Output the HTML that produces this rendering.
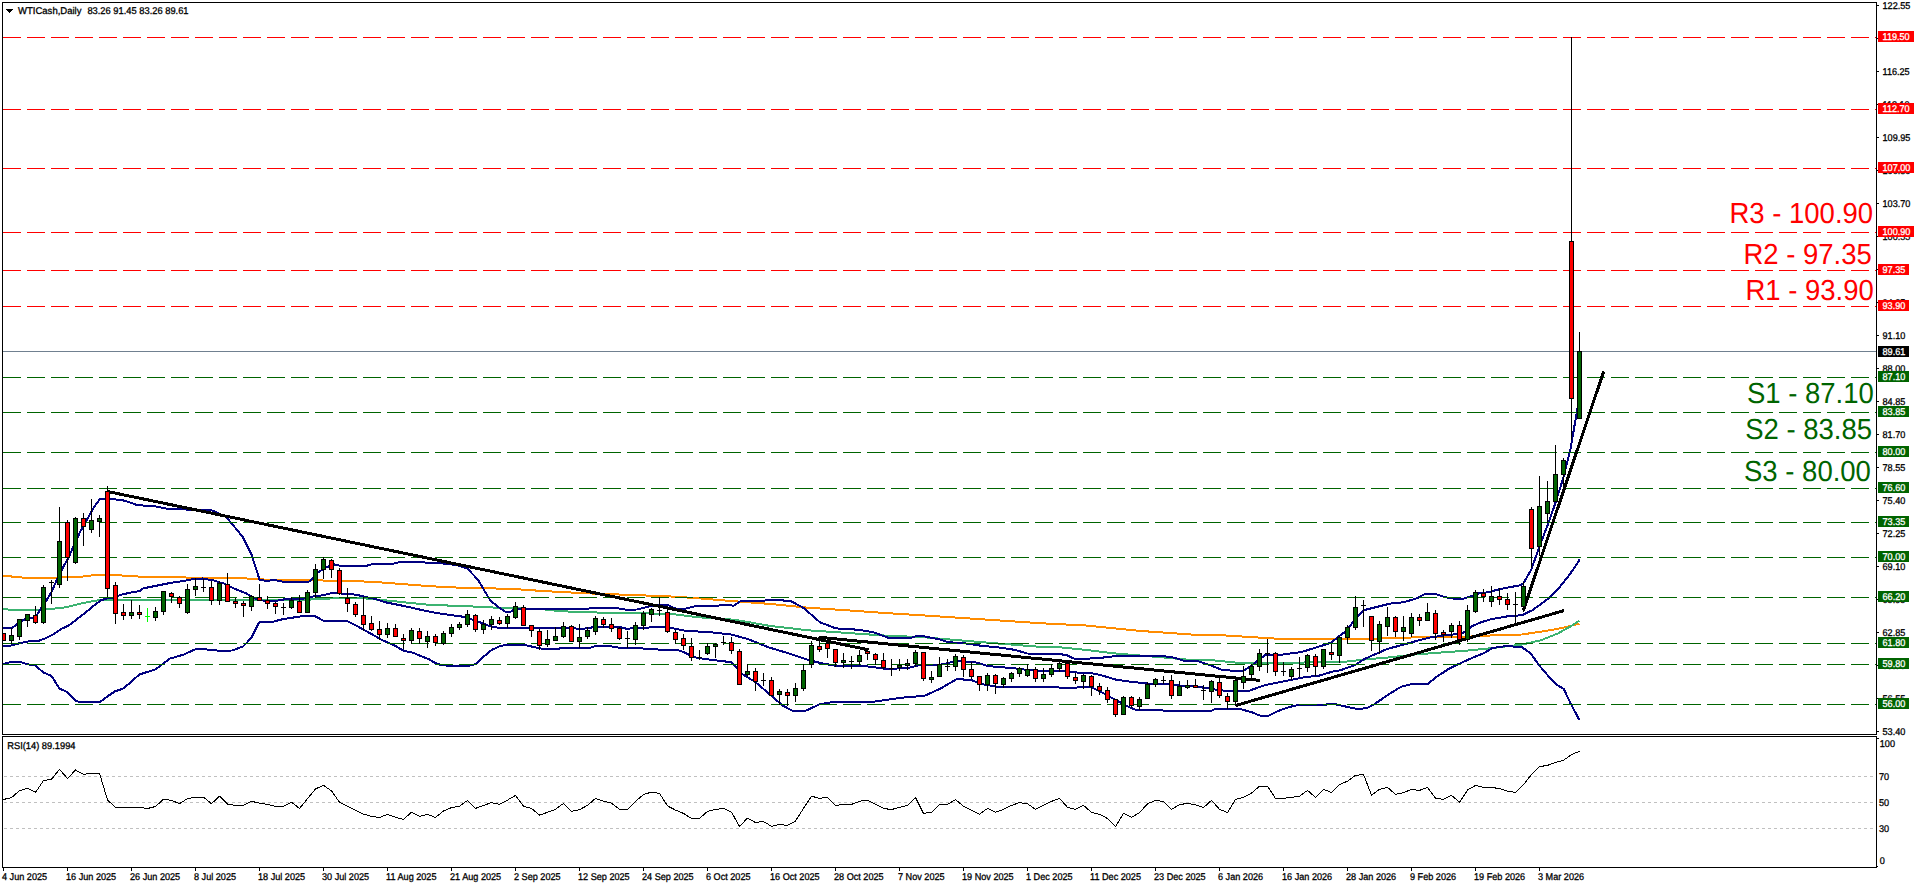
<!DOCTYPE html>
<html lang="en"><head><meta charset="utf-8"><title>WTICash Daily</title>
<style>html,body{margin:0;padding:0;background:#fff;overflow:hidden}svg{display:block}text{font-family:"Liberation Sans",Arial,sans-serif;text-rendering:geometricPrecision}.ax{font-size:9.8px;fill:#000;stroke:#000;stroke-width:.3px}.tg{font-size:9.8px;fill:#fff;stroke:#fff;stroke-width:.3px}.big{font-size:29px}</style></head><body>
<svg width="1916" height="888" viewBox="0 0 1916 888">
<rect width="1916" height="888" fill="#fff"/>
<defs><clipPath id="cm"><rect x="3" y="3" width="1873" height="731"/></clipPath><clipPath id="cr"><rect x="3" y="737" width="1873" height="130"/></clipPath></defs>
<g shape-rendering="crispEdges" clip-path="url(#cm)">
<polyline points="3.0,576.2 10.8,576.2 12.2,577.3 27.0,577.6 56.8,577.6 82.4,576.6 94.6,575.0 114.9,575.0 132.4,576.2 140.0,576.6 163.0,577.3 219.0,577.8 251.0,578.6 270.0,579.9 310.5,580.3 353.8,581.0 378.0,582.2 405.0,584.3 430.0,586.2 458.0,587.6 512.0,588.9 545.6,591.2 584.0,593.2 610.0,594.2 635.5,595.1 670.6,596.5 697.6,598.2 736.0,601.4 768.5,603.8 809.0,607.8 849.6,610.5 888.0,613.2 934.0,616.1 988.0,619.7 1040.0,623.2 1086.0,625.5 1140.0,630.9 1192.0,634.6 1224.5,635.4 1259.7,637.6 1284.0,639.2 1344.0,639.2 1387.0,638.4 1430.6,636.8 1471.0,636.5 1484.6,635.7 1521.9,634.5 1549.8,630.3 1567.3,626.8 1579.5,623.6" fill="none" stroke="#ff8c00" stroke-width="2" stroke-linejoin="round" />
<polyline points="3.0,608.9 12.2,610.0 40.5,609.6 59.5,608.2 67.6,606.9 81.0,603.5 94.6,600.8 102.7,599.7 140.0,600.1 197.0,600.3 210.6,599.5 276.0,599.5 310.5,599.5 337.6,598.1 364.6,598.4 391.6,601.0 430.0,604.9 464.5,606.1 505.0,608.1 540.0,609.0 559.0,611.1 584.0,612.2 620.6,613.1 670.6,613.8 697.6,617.2 736.0,619.9 768.5,625.7 809.0,630.4 849.6,633.1 888.0,635.8 920.5,637.0 961.0,640.4 1001.6,643.8 1040.0,646.8 1059.0,647.2 1086.0,649.9 1113.0,653.2 1132.0,654.9 1153.6,656.6 1192.0,660.0 1211.0,660.1 1238.0,662.8 1265.0,662.8 1319.0,662.4 1344.0,661.9 1363.0,659.7 1390.0,657.3 1417.0,654.3 1444.0,652.3 1471.0,650.3 1496.0,647.6 1521.9,644.6 1541.0,640.2 1558.5,633.2 1570.8,626.2 1579.5,620.5" fill="none" stroke="#3cb371" stroke-width="2" stroke-linejoin="round" />
<polyline points="3.0,628.1 12.2,627.8 17.6,623.8 24.3,619.5 27.0,618.1 32.4,618.1 36.5,615.7 40.5,608.9 46.6,600.1 51.4,592.2 56.8,580.0 63.5,566.5 68.9,557.0 73.6,546.2 79.7,532.7 86.5,520.5 93.2,508.4 100.0,498.9 105.4,498.6 121.6,500.0 129.7,502.3 135.1,504.3 136.5,505.0 155.5,506.4 167.6,508.8 190.6,509.7 210.9,510.0 225.7,516.5 231.0,522.6 242.6,536.8 251.4,554.3 257.5,573.2 259.5,579.7 265.0,580.7 276.0,580.3 283.5,581.9 309.0,581.6 313.0,577.8 317.0,573.1 324.0,568.4 333.5,564.3 340.0,565.7 367.0,565.7 372.7,564.0 394.0,563.6 401.0,561.6 418.6,561.6 430.0,563.2 440.0,563.1 456.4,565.1 467.0,568.2 478.0,579.7 483.5,589.2 490.0,600.0 497.0,606.1 505.0,611.5 510.5,611.8 514.0,609.5 540.0,609.0 584.0,608.8 596.0,608.1 616.5,608.0 626.0,609.7 637.0,609.5 649.0,606.4 657.0,605.0 668.0,605.0 674.6,608.4 684.0,609.0 697.6,605.7 731.4,605.4 733.4,605.8 740.0,601.4 779.0,600.0 791.5,601.4 803.7,608.1 820.0,622.3 836.0,628.4 857.7,629.7 874.0,632.4 882.0,635.5 888.0,637.7 911.0,637.7 918.0,635.7 924.6,636.4 940.8,639.7 947.6,642.2 963.8,643.1 981.4,645.8 1001.6,647.8 1015.0,649.9 1027.3,653.5 1040.0,653.9 1059.0,653.9 1067.0,655.3 1074.0,658.6 1088.8,658.6 1106.3,657.3 1118.5,655.7 1161.7,655.9 1174.0,657.6 1183.4,660.7 1192.0,661.1 1197.5,661.1 1211.0,665.5 1223.0,670.3 1243.5,670.9 1254.3,663.5 1265.0,655.1 1281.3,654.7 1301.6,652.0 1319.0,646.6 1331.3,642.6 1339.4,635.8 1344.0,632.7 1352.2,623.2 1363.0,610.4 1376.5,607.0 1390.0,603.6 1403.6,602.3 1417.0,598.2 1423.8,594.6 1429.2,593.5 1436.0,594.2 1444.0,596.9 1455.0,598.9 1463.0,598.9 1471.0,596.2 1479.2,593.2 1487.4,592.4 1496.0,590.1 1506.5,587.7 1520.0,585.4 1523.4,583.2 1531.3,569.6 1539.2,547.1 1547.0,526.8 1555.0,504.3 1562.8,479.5 1570.7,448.0 1577.5,408.0" fill="none" stroke="#000080" stroke-width="2" stroke-linejoin="round" />
<polyline points="3.0,646.1 12.2,645.4 20.3,643.0 28.4,641.4 39.2,640.7 44.6,638.6 52.7,634.6 60.8,629.2 68.9,625.4 77.0,619.1 85.1,613.0 93.2,606.2 100.7,600.5 106.8,598.4 113.5,597.4 121.6,594.7 129.7,592.7 140.0,591.1 143.0,588.4 170.0,583.0 183.6,581.0 194.4,578.9 202.5,578.5 213.0,580.3 224.0,583.6 233.6,588.4 245.7,593.1 256.5,599.2 262.0,600.5 276.0,600.8 283.5,599.5 302.4,599.0 310.5,596.8 324.0,595.1 333.5,592.7 345.7,594.0 356.5,594.7 364.6,596.8 375.4,599.0 385.0,602.2 405.0,606.2 427.0,611.2 437.5,613.2 464.5,616.9 478.0,621.6 491.6,626.8 501.0,628.1 539.0,628.1 584.0,628.6 595.0,627.0 620.6,627.3 626.0,628.6 643.6,628.2 657.0,626.6 674.6,628.6 686.8,631.0 708.4,632.0 724.6,633.8 731.4,634.5 748.3,639.2 768.5,647.3 788.8,653.4 809.0,660.1 822.6,663.5 836.0,665.8 863.0,665.8 884.0,668.6 893.5,668.8 911.0,667.4 918.0,665.4 940.8,664.7 955.7,661.1 974.6,662.0 988.0,666.1 1012.4,668.1 1036.0,670.9 1065.8,670.8 1072.5,672.4 1090.0,672.8 1102.3,675.5 1115.8,679.6 1129.3,681.6 1148.2,683.6 1167.0,683.6 1180.6,685.7 1192.0,685.9 1204.3,687.8 1217.8,689.9 1228.6,691.2 1248.9,690.8 1265.0,685.1 1278.6,682.4 1292.0,679.7 1305.6,677.0 1319.0,675.7 1332.6,671.6 1340.0,670.4 1356.3,664.5 1363.0,659.7 1376.5,653.6 1387.4,648.9 1403.6,644.6 1417.0,640.8 1430.6,637.4 1444.0,635.4 1457.6,634.0 1465.7,632.0 1471.0,626.6 1482.0,621.9 1491.4,619.2 1506.5,616.5 1522.3,615.1 1532.4,610.2 1540.3,604.5 1549.3,597.8 1558.3,588.8 1567.3,577.5 1574.0,568.5 1579.7,559.5" fill="none" stroke="#000080" stroke-width="2" stroke-linejoin="round" />
<polyline points="3.0,664.1 8.1,662.7 14.9,661.6 20.3,662.0 27.0,664.3 35.1,665.3 43.2,672.4 51.4,675.8 59.5,688.6 66.2,691.6 75.7,700.8 79.7,701.9 100.0,701.9 106.8,696.8 114.9,691.4 123.0,688.6 129.7,683.2 140.0,673.8 140.3,674.2 155.2,669.5 170.0,658.6 183.6,654.6 197.0,648.5 204.0,649.2 220.0,650.8 232.0,650.5 243.0,646.5 251.0,638.4 259.0,622.4 273.0,621.7 283.5,619.0 303.8,616.0 314.6,616.0 324.0,621.0 347.0,621.0 357.8,626.5 370.0,633.2 382.0,640.0 394.3,645.4 403.8,650.8 413.2,652.8 422.7,656.9 428.0,658.8 437.5,664.2 451.0,666.2 467.2,666.2 475.4,664.2 483.5,656.8 491.6,650.0 499.7,646.2 507.8,644.6 522.6,644.6 532.0,646.6 543.0,649.0 559.0,649.0 560.5,647.6 584.0,647.8 591.0,647.6 596.3,645.8 609.8,646.2 620.6,648.0 641.0,648.0 646.3,649.2 677.4,650.0 684.0,652.3 693.6,657.0 704.4,659.0 731.4,662.2 741.5,673.6 755.0,681.8 768.5,693.2 782.0,705.1 792.9,711.1 805.0,711.1 820.0,704.1 836.0,701.6 874.0,701.6 884.0,700.3 900.3,697.8 924.6,695.8 940.8,688.4 957.0,678.9 971.9,680.3 982.7,684.3 999.0,687.0 1040.0,687.0 1057.7,686.8 1060.4,688.1 1075.2,688.1 1078.0,687.0 1091.5,687.3 1099.6,691.1 1113.0,698.5 1126.6,705.9 1136.0,710.0 1161.7,710.0 1164.4,711.1 1192.0,711.1 1211.0,710.8 1215.0,709.2 1242.0,709.5 1251.6,712.2 1259.7,715.5 1269.0,715.5 1278.6,710.8 1288.0,707.4 1298.9,704.7 1326.0,704.7 1328.6,703.8 1336.0,704.4 1350.0,707.5 1359.0,709.4 1368.0,707.5 1374.0,704.4 1382.0,699.0 1390.0,693.5 1401.0,686.8 1411.7,684.0 1428.0,683.8 1436.0,677.3 1448.2,669.2 1457.6,664.5 1471.0,658.4 1484.6,652.8 1492.2,648.1 1506.2,646.0 1521.9,647.2 1530.6,653.3 1539.3,665.5 1549.8,677.7 1556.8,684.7 1563.8,689.1 1570.8,703.9 1579.5,720.1" fill="none" stroke="#000080" stroke-width="2" stroke-linejoin="round" />
</g>
<g shape-rendering="crispEdges">
<line x1="3" y1="37.5" x2="1876" y2="37.5" stroke="#ff0000" stroke-width="1" stroke-dasharray="18 6"/>
<line x1="3" y1="109.5" x2="1876" y2="109.5" stroke="#ff0000" stroke-width="1" stroke-dasharray="18 6"/>
<line x1="3" y1="168.5" x2="1876" y2="168.5" stroke="#ff0000" stroke-width="1" stroke-dasharray="18 6"/>
<line x1="3" y1="232.5" x2="1876" y2="232.5" stroke="#ff0000" stroke-width="1" stroke-dasharray="18 6"/>
<line x1="3" y1="270.5" x2="1876" y2="270.5" stroke="#ff0000" stroke-width="1" stroke-dasharray="18 6"/>
<line x1="3" y1="306.5" x2="1876" y2="306.5" stroke="#ff0000" stroke-width="1" stroke-dasharray="18 6"/>
<line x1="3" y1="377.5" x2="1876" y2="377.5" stroke="#006400" stroke-width="1" stroke-dasharray="18 6"/>
<line x1="3" y1="412.5" x2="1876" y2="412.5" stroke="#006400" stroke-width="1" stroke-dasharray="18 6"/>
<line x1="3" y1="452.5" x2="1876" y2="452.5" stroke="#006400" stroke-width="1" stroke-dasharray="18 6"/>
<line x1="3" y1="488.5" x2="1876" y2="488.5" stroke="#006400" stroke-width="1" stroke-dasharray="18 6"/>
<line x1="3" y1="522.5" x2="1876" y2="522.5" stroke="#006400" stroke-width="1" stroke-dasharray="18 6"/>
<line x1="3" y1="557.5" x2="1876" y2="557.5" stroke="#006400" stroke-width="1" stroke-dasharray="18 6"/>
<line x1="3" y1="597.5" x2="1876" y2="597.5" stroke="#006400" stroke-width="1" stroke-dasharray="18 6"/>
<line x1="3" y1="643.5" x2="1876" y2="643.5" stroke="#006400" stroke-width="1" stroke-dasharray="18 6"/>
<line x1="3" y1="664.5" x2="1876" y2="664.5" stroke="#006400" stroke-width="1" stroke-dasharray="18 6"/>
<line x1="3" y1="704.5" x2="1876" y2="704.5" stroke="#006400" stroke-width="1" stroke-dasharray="18 6"/>
<line x1="3" y1="351.5" x2="1876" y2="351.5" stroke="#708090" stroke-width="1"/>
</g>
<g shape-rendering="crispEdges" clip-path="url(#cm)">
<line x1="107" y1="491.4" x2="868.5" y2="649.8" stroke="#000" stroke-width="3"/>
<line x1="818.5" y1="637.2" x2="1260.4" y2="680.4" stroke="#000" stroke-width="3"/>
<line x1="1236" y1="705.4" x2="1564" y2="610.6" stroke="#000" stroke-width="3"/>
<line x1="1523.4" y1="610.2" x2="1603.7" y2="371.4" stroke="#000" stroke-width="3"/>
</g>
<g shape-rendering="crispEdges" clip-path="url(#cm)">
<rect x="3" y="633" width="1" height="8" fill="#000"/>
<rect x="1" y="633" width="5" height="8" fill="#000"/>
<rect x="2" y="634" width="3" height="6" fill="#ff0000"/>
<rect x="11" y="628" width="1" height="16" fill="#000"/>
<rect x="9" y="635" width="5" height="6" fill="#000"/>
<rect x="10" y="636" width="3" height="4" fill="#006400"/>
<rect x="19" y="619" width="1" height="21" fill="#000"/>
<rect x="17" y="619" width="5" height="18" fill="#000"/>
<rect x="18" y="620" width="3" height="16" fill="#006400"/>
<rect x="27" y="614" width="1" height="13" fill="#000"/>
<rect x="25" y="614" width="5" height="7" fill="#000"/>
<rect x="26" y="615" width="3" height="5" fill="#006400"/>
<rect x="35" y="606" width="1" height="18" fill="#000"/>
<rect x="33" y="615" width="5" height="8" fill="#000"/>
<rect x="34" y="616" width="3" height="6" fill="#ff0000"/>
<rect x="43" y="585" width="1" height="39" fill="#000"/>
<rect x="41" y="587" width="5" height="36" fill="#000"/>
<rect x="42" y="588" width="3" height="34" fill="#006400"/>
<rect x="51" y="580" width="1" height="24" fill="#000"/>
<rect x="49" y="582" width="5" height="1" fill="#000"/>
<rect x="59" y="507" width="1" height="81" fill="#000"/>
<rect x="57" y="541" width="5" height="44" fill="#000"/>
<rect x="58" y="542" width="3" height="42" fill="#006400"/>
<rect x="67" y="520" width="1" height="61" fill="#000"/>
<rect x="65" y="522" width="5" height="36" fill="#000"/>
<rect x="66" y="523" width="3" height="34" fill="#ff0000"/>
<rect x="75" y="517" width="1" height="47" fill="#000"/>
<rect x="73" y="518" width="5" height="45" fill="#000"/>
<rect x="74" y="519" width="3" height="43" fill="#006400"/>
<rect x="83" y="513" width="1" height="33" fill="#000"/>
<rect x="81" y="518" width="5" height="9" fill="#000"/>
<rect x="82" y="519" width="3" height="7" fill="#ff0000"/>
<rect x="91" y="499" width="1" height="34" fill="#000"/>
<rect x="89" y="520" width="5" height="10" fill="#000"/>
<rect x="90" y="521" width="3" height="8" fill="#006400"/>
<rect x="99" y="515" width="1" height="22" fill="#000"/>
<rect x="97" y="518" width="5" height="4" fill="#000"/>
<rect x="98" y="519" width="3" height="2" fill="#006400"/>
<rect x="107" y="486" width="1" height="111" fill="#000"/>
<rect x="105" y="491" width="5" height="98" fill="#000"/>
<rect x="106" y="492" width="3" height="96" fill="#ff0000"/>
<rect x="115" y="582" width="1" height="42" fill="#000"/>
<rect x="113" y="585" width="5" height="29" fill="#000"/>
<rect x="114" y="586" width="3" height="27" fill="#ff0000"/>
<rect x="123" y="604" width="1" height="16" fill="#000"/>
<rect x="121" y="612" width="5" height="4" fill="#000"/>
<rect x="122" y="613" width="3" height="2" fill="#ff0000"/>
<rect x="131" y="600" width="1" height="19" fill="#000"/>
<rect x="129" y="612" width="5" height="4" fill="#000"/>
<rect x="130" y="613" width="3" height="2" fill="#006400"/>
<rect x="139" y="605" width="1" height="14" fill="#000"/>
<rect x="137" y="612" width="5" height="3" fill="#000"/>
<rect x="138" y="613" width="3" height="1" fill="#ff0000"/>
<rect x="147" y="608" width="1" height="14" fill="#00ff00"/>
<rect x="145" y="616" width="5" height="1" fill="#00ff00"/>
<rect x="155" y="607" width="1" height="14" fill="#000"/>
<rect x="153" y="611" width="5" height="7" fill="#000"/>
<rect x="154" y="612" width="3" height="5" fill="#006400"/>
<rect x="163" y="591" width="1" height="24" fill="#000"/>
<rect x="161" y="591" width="5" height="21" fill="#000"/>
<rect x="162" y="592" width="3" height="19" fill="#006400"/>
<rect x="171" y="592" width="1" height="11" fill="#000"/>
<rect x="169" y="593" width="5" height="4" fill="#000"/>
<rect x="170" y="594" width="3" height="2" fill="#ff0000"/>
<rect x="179" y="596" width="1" height="12" fill="#000"/>
<rect x="177" y="597" width="5" height="7" fill="#000"/>
<rect x="178" y="598" width="3" height="5" fill="#ff0000"/>
<rect x="187" y="584" width="1" height="30" fill="#000"/>
<rect x="185" y="589" width="5" height="24" fill="#000"/>
<rect x="186" y="590" width="3" height="22" fill="#006400"/>
<rect x="195" y="578" width="1" height="18" fill="#000"/>
<rect x="193" y="586" width="5" height="4" fill="#000"/>
<rect x="194" y="587" width="3" height="2" fill="#006400"/>
<rect x="203" y="579" width="1" height="13" fill="#000"/>
<rect x="201" y="587" width="5" height="1" fill="#000"/>
<rect x="211" y="581" width="1" height="24" fill="#000"/>
<rect x="209" y="587" width="5" height="14" fill="#000"/>
<rect x="210" y="588" width="3" height="12" fill="#ff0000"/>
<rect x="219" y="581" width="1" height="24" fill="#000"/>
<rect x="217" y="583" width="5" height="18" fill="#000"/>
<rect x="218" y="584" width="3" height="16" fill="#006400"/>
<rect x="227" y="573" width="1" height="29" fill="#000"/>
<rect x="225" y="584" width="5" height="18" fill="#000"/>
<rect x="226" y="585" width="3" height="16" fill="#ff0000"/>
<rect x="235" y="598" width="1" height="10" fill="#000"/>
<rect x="233" y="601" width="5" height="3" fill="#000"/>
<rect x="234" y="602" width="3" height="1" fill="#ff0000"/>
<rect x="243" y="601" width="1" height="16" fill="#000"/>
<rect x="241" y="603" width="5" height="3" fill="#000"/>
<rect x="242" y="604" width="3" height="1" fill="#ff0000"/>
<rect x="251" y="595" width="1" height="16" fill="#000"/>
<rect x="249" y="596" width="5" height="11" fill="#000"/>
<rect x="250" y="597" width="3" height="9" fill="#006400"/>
<rect x="259" y="584" width="1" height="17" fill="#000"/>
<rect x="257" y="597" width="5" height="4" fill="#000"/>
<rect x="258" y="598" width="3" height="2" fill="#ff0000"/>
<rect x="267" y="596" width="1" height="13" fill="#000"/>
<rect x="265" y="600" width="5" height="4" fill="#000"/>
<rect x="266" y="601" width="3" height="2" fill="#ff0000"/>
<rect x="275" y="602" width="1" height="12" fill="#000"/>
<rect x="273" y="603" width="5" height="4" fill="#000"/>
<rect x="274" y="604" width="3" height="2" fill="#ff0000"/>
<rect x="283" y="603" width="1" height="12" fill="#000"/>
<rect x="281" y="607" width="5" height="1" fill="#000"/>
<rect x="291" y="597" width="1" height="12" fill="#000"/>
<rect x="289" y="600" width="5" height="8" fill="#000"/>
<rect x="290" y="601" width="3" height="6" fill="#006400"/>
<rect x="299" y="595" width="1" height="18" fill="#000"/>
<rect x="297" y="601" width="5" height="12" fill="#000"/>
<rect x="298" y="602" width="3" height="10" fill="#ff0000"/>
<rect x="307" y="590" width="1" height="23" fill="#000"/>
<rect x="305" y="592" width="5" height="21" fill="#000"/>
<rect x="306" y="593" width="3" height="19" fill="#006400"/>
<rect x="315" y="564" width="1" height="34" fill="#000"/>
<rect x="313" y="569" width="5" height="24" fill="#000"/>
<rect x="314" y="570" width="3" height="22" fill="#006400"/>
<rect x="323" y="557" width="1" height="22" fill="#000"/>
<rect x="321" y="559" width="5" height="11" fill="#000"/>
<rect x="322" y="560" width="3" height="9" fill="#006400"/>
<rect x="331" y="559" width="1" height="19" fill="#000"/>
<rect x="329" y="560" width="5" height="10" fill="#000"/>
<rect x="330" y="561" width="3" height="8" fill="#ff0000"/>
<rect x="339" y="568" width="1" height="27" fill="#000"/>
<rect x="337" y="570" width="5" height="24" fill="#000"/>
<rect x="338" y="571" width="3" height="22" fill="#ff0000"/>
<rect x="347" y="588" width="1" height="24" fill="#000"/>
<rect x="345" y="598" width="5" height="6" fill="#000"/>
<rect x="346" y="599" width="3" height="4" fill="#ff0000"/>
<rect x="355" y="602" width="1" height="15" fill="#000"/>
<rect x="353" y="604" width="5" height="11" fill="#000"/>
<rect x="354" y="605" width="3" height="9" fill="#ff0000"/>
<rect x="363" y="597" width="1" height="34" fill="#000"/>
<rect x="361" y="615" width="5" height="10" fill="#000"/>
<rect x="362" y="616" width="3" height="8" fill="#ff0000"/>
<rect x="371" y="616" width="1" height="15" fill="#000"/>
<rect x="369" y="623" width="5" height="7" fill="#000"/>
<rect x="370" y="624" width="3" height="5" fill="#ff0000"/>
<rect x="379" y="621" width="1" height="19" fill="#000"/>
<rect x="377" y="629" width="5" height="6" fill="#000"/>
<rect x="378" y="630" width="3" height="4" fill="#ff0000"/>
<rect x="387" y="623" width="1" height="15" fill="#000"/>
<rect x="385" y="628" width="5" height="7" fill="#000"/>
<rect x="386" y="629" width="3" height="5" fill="#006400"/>
<rect x="395" y="624" width="1" height="13" fill="#000"/>
<rect x="393" y="628" width="5" height="9" fill="#000"/>
<rect x="394" y="629" width="3" height="7" fill="#ff0000"/>
<rect x="403" y="634" width="1" height="15" fill="#000"/>
<rect x="401" y="638" width="5" height="3" fill="#000"/>
<rect x="402" y="639" width="3" height="1" fill="#ff0000"/>
<rect x="411" y="628" width="1" height="16" fill="#000"/>
<rect x="409" y="630" width="5" height="11" fill="#000"/>
<rect x="410" y="631" width="3" height="9" fill="#006400"/>
<rect x="419" y="628" width="1" height="16" fill="#000"/>
<rect x="417" y="631" width="5" height="8" fill="#000"/>
<rect x="418" y="632" width="3" height="6" fill="#ff0000"/>
<rect x="427" y="631" width="1" height="17" fill="#000"/>
<rect x="425" y="636" width="5" height="6" fill="#000"/>
<rect x="426" y="637" width="3" height="4" fill="#006400"/>
<rect x="435" y="634" width="1" height="12" fill="#000"/>
<rect x="433" y="636" width="5" height="7" fill="#000"/>
<rect x="434" y="637" width="3" height="5" fill="#ff0000"/>
<rect x="443" y="631" width="1" height="14" fill="#000"/>
<rect x="441" y="633" width="5" height="11" fill="#000"/>
<rect x="442" y="634" width="3" height="9" fill="#006400"/>
<rect x="451" y="624" width="1" height="13" fill="#000"/>
<rect x="449" y="627" width="5" height="7" fill="#000"/>
<rect x="450" y="628" width="3" height="5" fill="#006400"/>
<rect x="459" y="622" width="1" height="8" fill="#000"/>
<rect x="457" y="624" width="5" height="4" fill="#000"/>
<rect x="458" y="625" width="3" height="2" fill="#006400"/>
<rect x="467" y="610" width="1" height="17" fill="#000"/>
<rect x="465" y="614" width="5" height="11" fill="#000"/>
<rect x="466" y="615" width="3" height="9" fill="#006400"/>
<rect x="475" y="614" width="1" height="18" fill="#000"/>
<rect x="473" y="615" width="5" height="15" fill="#000"/>
<rect x="474" y="616" width="3" height="13" fill="#ff0000"/>
<rect x="483" y="620" width="1" height="14" fill="#000"/>
<rect x="481" y="624" width="5" height="6" fill="#000"/>
<rect x="482" y="625" width="3" height="4" fill="#006400"/>
<rect x="491" y="616" width="1" height="14" fill="#000"/>
<rect x="489" y="619" width="5" height="6" fill="#000"/>
<rect x="490" y="620" width="3" height="4" fill="#006400"/>
<rect x="499" y="617" width="1" height="8" fill="#000"/>
<rect x="497" y="620" width="5" height="4" fill="#000"/>
<rect x="498" y="621" width="3" height="2" fill="#ff0000"/>
<rect x="507" y="614" width="1" height="14" fill="#000"/>
<rect x="505" y="616" width="5" height="8" fill="#000"/>
<rect x="506" y="617" width="3" height="6" fill="#006400"/>
<rect x="515" y="602" width="1" height="17" fill="#000"/>
<rect x="513" y="606" width="5" height="12" fill="#000"/>
<rect x="514" y="607" width="3" height="10" fill="#006400"/>
<rect x="523" y="605" width="1" height="21" fill="#000"/>
<rect x="521" y="607" width="5" height="19" fill="#000"/>
<rect x="522" y="608" width="3" height="17" fill="#ff0000"/>
<rect x="531" y="625" width="1" height="12" fill="#000"/>
<rect x="529" y="625" width="5" height="6" fill="#000"/>
<rect x="530" y="626" width="3" height="4" fill="#ff0000"/>
<rect x="539" y="629" width="1" height="21" fill="#000"/>
<rect x="537" y="631" width="5" height="15" fill="#000"/>
<rect x="538" y="632" width="3" height="13" fill="#ff0000"/>
<rect x="547" y="630" width="1" height="17" fill="#000"/>
<rect x="545" y="639" width="5" height="6" fill="#000"/>
<rect x="546" y="640" width="3" height="4" fill="#006400"/>
<rect x="555" y="627" width="1" height="14" fill="#000"/>
<rect x="553" y="636" width="5" height="5" fill="#000"/>
<rect x="554" y="637" width="3" height="3" fill="#006400"/>
<rect x="563" y="622" width="1" height="16" fill="#000"/>
<rect x="561" y="626" width="5" height="11" fill="#000"/>
<rect x="562" y="627" width="3" height="9" fill="#006400"/>
<rect x="571" y="625" width="1" height="17" fill="#000"/>
<rect x="569" y="626" width="5" height="16" fill="#000"/>
<rect x="570" y="627" width="3" height="14" fill="#ff0000"/>
<rect x="579" y="624" width="1" height="24" fill="#000"/>
<rect x="577" y="637" width="5" height="5" fill="#000"/>
<rect x="578" y="638" width="3" height="3" fill="#006400"/>
<rect x="587" y="627" width="1" height="12" fill="#000"/>
<rect x="585" y="630" width="5" height="7" fill="#000"/>
<rect x="586" y="631" width="3" height="5" fill="#006400"/>
<rect x="595" y="616" width="1" height="19" fill="#000"/>
<rect x="593" y="618" width="5" height="14" fill="#000"/>
<rect x="594" y="619" width="3" height="12" fill="#006400"/>
<rect x="603" y="617" width="1" height="11" fill="#000"/>
<rect x="601" y="619" width="5" height="6" fill="#000"/>
<rect x="602" y="620" width="3" height="4" fill="#ff0000"/>
<rect x="611" y="618" width="1" height="14" fill="#000"/>
<rect x="609" y="624" width="5" height="5" fill="#000"/>
<rect x="610" y="625" width="3" height="3" fill="#ff0000"/>
<rect x="619" y="627" width="1" height="13" fill="#000"/>
<rect x="617" y="628" width="5" height="11" fill="#000"/>
<rect x="618" y="629" width="3" height="9" fill="#ff0000"/>
<rect x="627" y="631" width="1" height="17" fill="#000"/>
<rect x="625" y="638" width="5" height="1" fill="#000"/>
<rect x="635" y="622" width="1" height="23" fill="#000"/>
<rect x="633" y="625" width="5" height="15" fill="#000"/>
<rect x="634" y="626" width="3" height="13" fill="#006400"/>
<rect x="643" y="611" width="1" height="19" fill="#000"/>
<rect x="641" y="613" width="5" height="13" fill="#000"/>
<rect x="642" y="614" width="3" height="11" fill="#006400"/>
<rect x="651" y="608" width="1" height="14" fill="#000"/>
<rect x="649" y="609" width="5" height="6" fill="#000"/>
<rect x="650" y="610" width="3" height="4" fill="#006400"/>
<rect x="659" y="597" width="1" height="19" fill="#000"/>
<rect x="657" y="610" width="5" height="1" fill="#000"/>
<rect x="667" y="610" width="1" height="23" fill="#000"/>
<rect x="665" y="612" width="5" height="20" fill="#000"/>
<rect x="666" y="613" width="3" height="18" fill="#ff0000"/>
<rect x="675" y="630" width="1" height="14" fill="#000"/>
<rect x="673" y="632" width="5" height="8" fill="#000"/>
<rect x="674" y="633" width="3" height="6" fill="#ff0000"/>
<rect x="683" y="634" width="1" height="16" fill="#000"/>
<rect x="681" y="638" width="5" height="8" fill="#000"/>
<rect x="682" y="639" width="3" height="6" fill="#ff0000"/>
<rect x="691" y="638" width="1" height="23" fill="#000"/>
<rect x="689" y="646" width="5" height="12" fill="#000"/>
<rect x="690" y="647" width="3" height="10" fill="#ff0000"/>
<rect x="699" y="650" width="1" height="10" fill="#000"/>
<rect x="697" y="657" width="5" height="1" fill="#000"/>
<rect x="707" y="643" width="1" height="12" fill="#000"/>
<rect x="705" y="646" width="5" height="8" fill="#000"/>
<rect x="706" y="647" width="3" height="6" fill="#006400"/>
<rect x="715" y="643" width="1" height="15" fill="#000"/>
<rect x="713" y="644" width="5" height="3" fill="#000"/>
<rect x="714" y="645" width="3" height="1" fill="#006400"/>
<rect x="723" y="636" width="1" height="9" fill="#000"/>
<rect x="721" y="642" width="5" height="1" fill="#000"/>
<rect x="731" y="637" width="1" height="17" fill="#000"/>
<rect x="729" y="642" width="5" height="9" fill="#000"/>
<rect x="730" y="643" width="3" height="7" fill="#ff0000"/>
<rect x="739" y="649" width="1" height="36" fill="#000"/>
<rect x="737" y="651" width="5" height="34" fill="#000"/>
<rect x="738" y="652" width="3" height="32" fill="#ff0000"/>
<rect x="747" y="664" width="1" height="13" fill="#000"/>
<rect x="745" y="671" width="5" height="4" fill="#000"/>
<rect x="746" y="672" width="3" height="2" fill="#006400"/>
<rect x="755" y="668" width="1" height="23" fill="#000"/>
<rect x="753" y="671" width="5" height="11" fill="#000"/>
<rect x="754" y="672" width="3" height="9" fill="#ff0000"/>
<rect x="763" y="673" width="1" height="13" fill="#000"/>
<rect x="761" y="680" width="5" height="1" fill="#000"/>
<rect x="771" y="677" width="1" height="19" fill="#000"/>
<rect x="769" y="680" width="5" height="16" fill="#000"/>
<rect x="770" y="681" width="3" height="14" fill="#ff0000"/>
<rect x="779" y="689" width="1" height="16" fill="#000"/>
<rect x="777" y="691" width="5" height="4" fill="#000"/>
<rect x="778" y="692" width="3" height="2" fill="#006400"/>
<rect x="787" y="689" width="1" height="17" fill="#000"/>
<rect x="785" y="692" width="5" height="4" fill="#000"/>
<rect x="786" y="693" width="3" height="2" fill="#ff0000"/>
<rect x="795" y="683" width="1" height="19" fill="#000"/>
<rect x="793" y="688" width="5" height="8" fill="#000"/>
<rect x="794" y="689" width="3" height="6" fill="#006400"/>
<rect x="803" y="664" width="1" height="27" fill="#000"/>
<rect x="801" y="670" width="5" height="19" fill="#000"/>
<rect x="802" y="671" width="3" height="17" fill="#006400"/>
<rect x="811" y="641" width="1" height="27" fill="#000"/>
<rect x="809" y="645" width="5" height="20" fill="#000"/>
<rect x="810" y="646" width="3" height="18" fill="#006400"/>
<rect x="819" y="640" width="1" height="12" fill="#000"/>
<rect x="817" y="646" width="5" height="4" fill="#000"/>
<rect x="818" y="647" width="3" height="2" fill="#ff0000"/>
<rect x="827" y="640" width="1" height="18" fill="#000"/>
<rect x="825" y="643" width="5" height="6" fill="#000"/>
<rect x="826" y="644" width="3" height="4" fill="#ff0000"/>
<rect x="835" y="649" width="1" height="18" fill="#000"/>
<rect x="833" y="649" width="5" height="14" fill="#000"/>
<rect x="834" y="650" width="3" height="12" fill="#ff0000"/>
<rect x="843" y="653" width="1" height="15" fill="#000"/>
<rect x="841" y="660" width="5" height="3" fill="#000"/>
<rect x="842" y="661" width="3" height="1" fill="#006400"/>
<rect x="851" y="656" width="1" height="13" fill="#000"/>
<rect x="849" y="661" width="5" height="1" fill="#000"/>
<rect x="859" y="650" width="1" height="15" fill="#000"/>
<rect x="857" y="655" width="5" height="7" fill="#000"/>
<rect x="858" y="656" width="3" height="5" fill="#006400"/>
<rect x="867" y="649" width="1" height="11" fill="#000"/>
<rect x="865" y="651" width="5" height="3" fill="#000"/>
<rect x="866" y="652" width="3" height="1" fill="#ff0000"/>
<rect x="875" y="653" width="1" height="12" fill="#000"/>
<rect x="873" y="654" width="5" height="6" fill="#000"/>
<rect x="874" y="655" width="3" height="4" fill="#ff0000"/>
<rect x="883" y="653" width="1" height="16" fill="#000"/>
<rect x="881" y="660" width="5" height="8" fill="#000"/>
<rect x="882" y="661" width="3" height="6" fill="#ff0000"/>
<rect x="891" y="659" width="1" height="17" fill="#000"/>
<rect x="889" y="668" width="5" height="1" fill="#000"/>
<rect x="899" y="659" width="1" height="12" fill="#000"/>
<rect x="897" y="665" width="5" height="3" fill="#000"/>
<rect x="898" y="666" width="3" height="1" fill="#006400"/>
<rect x="907" y="659" width="1" height="11" fill="#000"/>
<rect x="905" y="663" width="5" height="3" fill="#000"/>
<rect x="906" y="664" width="3" height="1" fill="#006400"/>
<rect x="915" y="650" width="1" height="17" fill="#000"/>
<rect x="913" y="652" width="5" height="12" fill="#000"/>
<rect x="914" y="653" width="3" height="10" fill="#006400"/>
<rect x="923" y="652" width="1" height="29" fill="#000"/>
<rect x="921" y="652" width="5" height="27" fill="#000"/>
<rect x="922" y="653" width="3" height="25" fill="#ff0000"/>
<rect x="931" y="671" width="1" height="12" fill="#000"/>
<rect x="929" y="677" width="5" height="3" fill="#000"/>
<rect x="930" y="678" width="3" height="1" fill="#006400"/>
<rect x="939" y="657" width="1" height="20" fill="#000"/>
<rect x="937" y="664" width="5" height="13" fill="#000"/>
<rect x="938" y="665" width="3" height="11" fill="#006400"/>
<rect x="947" y="659" width="1" height="12" fill="#000"/>
<rect x="945" y="666" width="5" height="1" fill="#000"/>
<rect x="955" y="654" width="1" height="17" fill="#000"/>
<rect x="953" y="656" width="5" height="11" fill="#000"/>
<rect x="954" y="657" width="3" height="9" fill="#006400"/>
<rect x="963" y="655" width="1" height="22" fill="#000"/>
<rect x="961" y="657" width="5" height="13" fill="#000"/>
<rect x="962" y="658" width="3" height="11" fill="#ff0000"/>
<rect x="971" y="662" width="1" height="17" fill="#000"/>
<rect x="969" y="669" width="5" height="8" fill="#000"/>
<rect x="970" y="670" width="3" height="6" fill="#ff0000"/>
<rect x="979" y="676" width="1" height="15" fill="#000"/>
<rect x="977" y="676" width="5" height="9" fill="#000"/>
<rect x="978" y="677" width="3" height="7" fill="#ff0000"/>
<rect x="987" y="673" width="1" height="18" fill="#000"/>
<rect x="985" y="675" width="5" height="10" fill="#000"/>
<rect x="986" y="676" width="3" height="8" fill="#006400"/>
<rect x="995" y="674" width="1" height="20" fill="#000"/>
<rect x="993" y="675" width="5" height="9" fill="#000"/>
<rect x="994" y="676" width="3" height="7" fill="#ff0000"/>
<rect x="1003" y="677" width="1" height="11" fill="#000"/>
<rect x="1001" y="678" width="5" height="7" fill="#000"/>
<rect x="1002" y="679" width="3" height="5" fill="#006400"/>
<rect x="1011" y="672" width="1" height="10" fill="#000"/>
<rect x="1009" y="673" width="5" height="6" fill="#000"/>
<rect x="1010" y="674" width="3" height="4" fill="#006400"/>
<rect x="1019" y="667" width="1" height="10" fill="#000"/>
<rect x="1017" y="668" width="5" height="6" fill="#000"/>
<rect x="1018" y="669" width="3" height="4" fill="#006400"/>
<rect x="1027" y="664" width="1" height="13" fill="#000"/>
<rect x="1025" y="669" width="5" height="7" fill="#000"/>
<rect x="1026" y="670" width="3" height="5" fill="#006400"/>
<rect x="1035" y="667" width="1" height="15" fill="#000"/>
<rect x="1033" y="669" width="5" height="10" fill="#000"/>
<rect x="1034" y="670" width="3" height="8" fill="#ff0000"/>
<rect x="1043" y="668" width="1" height="14" fill="#000"/>
<rect x="1041" y="674" width="5" height="5" fill="#000"/>
<rect x="1042" y="675" width="3" height="3" fill="#006400"/>
<rect x="1051" y="664" width="1" height="13" fill="#000"/>
<rect x="1049" y="668" width="5" height="7" fill="#000"/>
<rect x="1050" y="669" width="3" height="5" fill="#006400"/>
<rect x="1059" y="662" width="1" height="10" fill="#000"/>
<rect x="1057" y="663" width="5" height="6" fill="#000"/>
<rect x="1058" y="664" width="3" height="4" fill="#006400"/>
<rect x="1067" y="662" width="1" height="17" fill="#000"/>
<rect x="1065" y="663" width="5" height="14" fill="#000"/>
<rect x="1066" y="664" width="3" height="12" fill="#ff0000"/>
<rect x="1075" y="673" width="1" height="11" fill="#000"/>
<rect x="1073" y="677" width="5" height="4" fill="#000"/>
<rect x="1074" y="678" width="3" height="2" fill="#ff0000"/>
<rect x="1083" y="674" width="1" height="15" fill="#000"/>
<rect x="1081" y="675" width="5" height="7" fill="#000"/>
<rect x="1082" y="676" width="3" height="5" fill="#006400"/>
<rect x="1091" y="675" width="1" height="21" fill="#000"/>
<rect x="1089" y="676" width="5" height="11" fill="#000"/>
<rect x="1090" y="677" width="3" height="9" fill="#ff0000"/>
<rect x="1099" y="683" width="1" height="12" fill="#000"/>
<rect x="1097" y="686" width="5" height="5" fill="#000"/>
<rect x="1098" y="687" width="3" height="3" fill="#ff0000"/>
<rect x="1107" y="687" width="1" height="16" fill="#000"/>
<rect x="1105" y="690" width="5" height="10" fill="#000"/>
<rect x="1106" y="691" width="3" height="8" fill="#ff0000"/>
<rect x="1115" y="699" width="1" height="18" fill="#000"/>
<rect x="1113" y="699" width="5" height="16" fill="#000"/>
<rect x="1114" y="700" width="3" height="14" fill="#ff0000"/>
<rect x="1123" y="696" width="1" height="19" fill="#000"/>
<rect x="1121" y="697" width="5" height="18" fill="#000"/>
<rect x="1122" y="698" width="3" height="16" fill="#006400"/>
<rect x="1131" y="696" width="1" height="12" fill="#000"/>
<rect x="1129" y="697" width="5" height="9" fill="#000"/>
<rect x="1130" y="698" width="3" height="7" fill="#ff0000"/>
<rect x="1139" y="697" width="1" height="13" fill="#000"/>
<rect x="1137" y="699" width="5" height="8" fill="#000"/>
<rect x="1138" y="700" width="3" height="6" fill="#006400"/>
<rect x="1147" y="682" width="1" height="17" fill="#000"/>
<rect x="1145" y="684" width="5" height="15" fill="#000"/>
<rect x="1146" y="685" width="3" height="13" fill="#006400"/>
<rect x="1155" y="678" width="1" height="9" fill="#000"/>
<rect x="1153" y="679" width="5" height="6" fill="#000"/>
<rect x="1154" y="680" width="3" height="4" fill="#006400"/>
<rect x="1163" y="676" width="1" height="8" fill="#000"/>
<rect x="1161" y="680" width="5" height="1" fill="#000"/>
<rect x="1171" y="675" width="1" height="24" fill="#000"/>
<rect x="1169" y="680" width="5" height="16" fill="#000"/>
<rect x="1170" y="681" width="3" height="14" fill="#ff0000"/>
<rect x="1179" y="681" width="1" height="15" fill="#000"/>
<rect x="1177" y="686" width="5" height="10" fill="#000"/>
<rect x="1178" y="687" width="3" height="8" fill="#006400"/>
<rect x="1187" y="680" width="1" height="9" fill="#000"/>
<rect x="1185" y="685" width="5" height="3" fill="#000"/>
<rect x="1186" y="686" width="3" height="1" fill="#006400"/>
<rect x="1195" y="679" width="1" height="9" fill="#000"/>
<rect x="1193" y="685" width="5" height="3" fill="#000"/>
<rect x="1194" y="686" width="3" height="1" fill="#ff0000"/>
<rect x="1203" y="685" width="1" height="15" fill="#000"/>
<rect x="1201" y="690" width="5" height="1" fill="#000"/>
<rect x="1211" y="680" width="1" height="23" fill="#000"/>
<rect x="1209" y="681" width="5" height="11" fill="#000"/>
<rect x="1210" y="682" width="3" height="9" fill="#006400"/>
<rect x="1219" y="678" width="1" height="20" fill="#000"/>
<rect x="1217" y="682" width="5" height="14" fill="#000"/>
<rect x="1218" y="683" width="3" height="12" fill="#ff0000"/>
<rect x="1227" y="693" width="1" height="16" fill="#000"/>
<rect x="1225" y="696" width="5" height="6" fill="#000"/>
<rect x="1226" y="697" width="3" height="4" fill="#ff0000"/>
<rect x="1235" y="677" width="1" height="29" fill="#000"/>
<rect x="1233" y="680" width="5" height="22" fill="#000"/>
<rect x="1234" y="681" width="3" height="20" fill="#006400"/>
<rect x="1243" y="666" width="1" height="23" fill="#000"/>
<rect x="1241" y="676" width="5" height="7" fill="#000"/>
<rect x="1242" y="677" width="3" height="5" fill="#006400"/>
<rect x="1251" y="664" width="1" height="14" fill="#000"/>
<rect x="1249" y="666" width="5" height="9" fill="#000"/>
<rect x="1250" y="667" width="3" height="7" fill="#006400"/>
<rect x="1259" y="649" width="1" height="22" fill="#000"/>
<rect x="1257" y="653" width="5" height="14" fill="#000"/>
<rect x="1258" y="654" width="3" height="12" fill="#006400"/>
<rect x="1267" y="639" width="1" height="34" fill="#000"/>
<rect x="1265" y="653" width="5" height="1" fill="#000"/>
<rect x="1275" y="652" width="1" height="24" fill="#000"/>
<rect x="1273" y="653" width="5" height="19" fill="#000"/>
<rect x="1274" y="654" width="3" height="17" fill="#ff0000"/>
<rect x="1283" y="662" width="1" height="14" fill="#000"/>
<rect x="1281" y="671" width="5" height="1" fill="#000"/>
<rect x="1291" y="667" width="1" height="13" fill="#000"/>
<rect x="1289" y="669" width="5" height="8" fill="#000"/>
<rect x="1290" y="670" width="3" height="6" fill="#006400"/>
<rect x="1299" y="657" width="1" height="20" fill="#000"/>
<rect x="1297" y="668" width="5" height="1" fill="#000"/>
<rect x="1307" y="654" width="1" height="18" fill="#000"/>
<rect x="1305" y="655" width="5" height="13" fill="#000"/>
<rect x="1306" y="656" width="3" height="11" fill="#006400"/>
<rect x="1315" y="654" width="1" height="22" fill="#000"/>
<rect x="1313" y="656" width="5" height="11" fill="#000"/>
<rect x="1314" y="657" width="3" height="9" fill="#ff0000"/>
<rect x="1323" y="649" width="1" height="20" fill="#000"/>
<rect x="1321" y="649" width="5" height="18" fill="#000"/>
<rect x="1322" y="650" width="3" height="16" fill="#006400"/>
<rect x="1331" y="644" width="1" height="16" fill="#000"/>
<rect x="1329" y="652" width="5" height="3" fill="#000"/>
<rect x="1330" y="653" width="3" height="1" fill="#ff0000"/>
<rect x="1339" y="636" width="1" height="27" fill="#000"/>
<rect x="1337" y="637" width="5" height="19" fill="#000"/>
<rect x="1338" y="638" width="3" height="17" fill="#006400"/>
<rect x="1347" y="625" width="1" height="19" fill="#000"/>
<rect x="1345" y="627" width="5" height="11" fill="#000"/>
<rect x="1346" y="628" width="3" height="9" fill="#006400"/>
<rect x="1355" y="596" width="1" height="34" fill="#000"/>
<rect x="1353" y="607" width="5" height="21" fill="#000"/>
<rect x="1354" y="608" width="3" height="19" fill="#006400"/>
<rect x="1363" y="600" width="1" height="27" fill="#000"/>
<rect x="1361" y="605" width="5" height="1" fill="#000"/>
<rect x="1371" y="616" width="1" height="35" fill="#000"/>
<rect x="1369" y="616" width="5" height="25" fill="#000"/>
<rect x="1370" y="617" width="3" height="23" fill="#ff0000"/>
<rect x="1379" y="621" width="1" height="33" fill="#000"/>
<rect x="1377" y="624" width="5" height="18" fill="#000"/>
<rect x="1378" y="625" width="3" height="16" fill="#006400"/>
<rect x="1387" y="607" width="1" height="29" fill="#000"/>
<rect x="1385" y="617" width="5" height="10" fill="#000"/>
<rect x="1386" y="618" width="3" height="8" fill="#006400"/>
<rect x="1395" y="616" width="1" height="21" fill="#000"/>
<rect x="1393" y="617" width="5" height="15" fill="#000"/>
<rect x="1394" y="618" width="3" height="13" fill="#ff0000"/>
<rect x="1403" y="616" width="1" height="25" fill="#000"/>
<rect x="1401" y="627" width="5" height="5" fill="#000"/>
<rect x="1402" y="628" width="3" height="3" fill="#006400"/>
<rect x="1411" y="613" width="1" height="24" fill="#000"/>
<rect x="1409" y="617" width="5" height="17" fill="#000"/>
<rect x="1410" y="618" width="3" height="15" fill="#006400"/>
<rect x="1419" y="614" width="1" height="12" fill="#000"/>
<rect x="1417" y="617" width="5" height="4" fill="#000"/>
<rect x="1418" y="618" width="3" height="2" fill="#ff0000"/>
<rect x="1427" y="603" width="1" height="18" fill="#000"/>
<rect x="1425" y="612" width="5" height="9" fill="#000"/>
<rect x="1426" y="613" width="3" height="7" fill="#006400"/>
<rect x="1435" y="610" width="1" height="30" fill="#000"/>
<rect x="1433" y="613" width="5" height="21" fill="#000"/>
<rect x="1434" y="614" width="3" height="19" fill="#ff0000"/>
<rect x="1443" y="630" width="1" height="12" fill="#000"/>
<rect x="1441" y="632" width="5" height="3" fill="#000"/>
<rect x="1442" y="633" width="3" height="1" fill="#ff0000"/>
<rect x="1451" y="623" width="1" height="15" fill="#000"/>
<rect x="1449" y="625" width="5" height="7" fill="#000"/>
<rect x="1450" y="626" width="3" height="5" fill="#006400"/>
<rect x="1459" y="621" width="1" height="24" fill="#000"/>
<rect x="1457" y="625" width="5" height="15" fill="#000"/>
<rect x="1458" y="626" width="3" height="13" fill="#ff0000"/>
<rect x="1467" y="605" width="1" height="37" fill="#000"/>
<rect x="1465" y="610" width="5" height="30" fill="#000"/>
<rect x="1466" y="611" width="3" height="28" fill="#006400"/>
<rect x="1475" y="590" width="1" height="23" fill="#000"/>
<rect x="1473" y="592" width="5" height="20" fill="#000"/>
<rect x="1474" y="593" width="3" height="18" fill="#006400"/>
<rect x="1483" y="589" width="1" height="13" fill="#000"/>
<rect x="1481" y="593" width="5" height="4" fill="#000"/>
<rect x="1482" y="594" width="3" height="2" fill="#ff0000"/>
<rect x="1491" y="586" width="1" height="21" fill="#000"/>
<rect x="1489" y="596" width="5" height="6" fill="#000"/>
<rect x="1490" y="597" width="3" height="4" fill="#006400"/>
<rect x="1499" y="588" width="1" height="17" fill="#000"/>
<rect x="1497" y="596" width="5" height="4" fill="#000"/>
<rect x="1498" y="597" width="3" height="2" fill="#ff0000"/>
<rect x="1507" y="593" width="1" height="17" fill="#000"/>
<rect x="1505" y="599" width="5" height="6" fill="#000"/>
<rect x="1506" y="600" width="3" height="4" fill="#ff0000"/>
<rect x="1515" y="592" width="1" height="31" fill="#000"/>
<rect x="1513" y="604" width="5" height="1" fill="#000"/>
<rect x="1523" y="582" width="1" height="30" fill="#000"/>
<rect x="1521" y="586" width="5" height="21" fill="#000"/>
<rect x="1522" y="587" width="3" height="19" fill="#006400"/>
<rect x="1531" y="507" width="1" height="61" fill="#000"/>
<rect x="1529" y="509" width="5" height="40" fill="#000"/>
<rect x="1530" y="510" width="3" height="38" fill="#ff0000"/>
<rect x="1539" y="476" width="1" height="80" fill="#000"/>
<rect x="1537" y="506" width="5" height="41" fill="#000"/>
<rect x="1538" y="507" width="3" height="39" fill="#006400"/>
<rect x="1547" y="481" width="1" height="42" fill="#000"/>
<rect x="1545" y="501" width="5" height="13" fill="#000"/>
<rect x="1546" y="502" width="3" height="11" fill="#006400"/>
<rect x="1555" y="445" width="1" height="57" fill="#000"/>
<rect x="1553" y="474" width="5" height="28" fill="#000"/>
<rect x="1554" y="475" width="3" height="26" fill="#006400"/>
<rect x="1563" y="458" width="1" height="30" fill="#000"/>
<rect x="1561" y="460" width="5" height="15" fill="#000"/>
<rect x="1562" y="461" width="3" height="13" fill="#006400"/>
<rect x="1571" y="37" width="1" height="403" fill="#000"/>
<rect x="1569" y="241" width="5" height="158" fill="#000"/>
<rect x="1570" y="242" width="3" height="156" fill="#ff0000"/>
<rect x="1579" y="332" width="1" height="87" fill="#000"/>
<rect x="1577" y="351" width="5" height="68" fill="#000"/>
<rect x="1578" y="352" width="3" height="66" fill="#006400"/>
</g>
<g shape-rendering="crispEdges" fill="#000">
<rect x="2" y="2" width="1875" height="1" fill="#000"/>
<rect x="2" y="2" width="1" height="733" fill="#000"/>
<rect x="2" y="734" width="1875" height="1" fill="#000"/>
<rect x="1876" y="2" width="1" height="733" fill="#000"/>
<rect x="2" y="736" width="1875" height="1" fill="#000"/>
<rect x="2" y="736" width="1" height="132" fill="#000"/>
<rect x="2" y="867" width="1875" height="1" fill="#000"/>
<rect x="1876" y="736" width="1" height="132" fill="#000"/>
<rect x="1877" y="5" width="2" height="1" fill="#000"/>
<rect x="1877" y="38" width="2" height="1" fill="#000"/>
<rect x="1877" y="71" width="2" height="1" fill="#000"/>
<rect x="1877" y="104" width="2" height="1" fill="#000"/>
<rect x="1877" y="137" width="2" height="1" fill="#000"/>
<rect x="1877" y="170" width="2" height="1" fill="#000"/>
<rect x="1877" y="203" width="2" height="1" fill="#000"/>
<rect x="1877" y="236" width="2" height="1" fill="#000"/>
<rect x="1877" y="269" width="2" height="1" fill="#000"/>
<rect x="1877" y="302" width="2" height="1" fill="#000"/>
<rect x="1877" y="335" width="2" height="1" fill="#000"/>
<rect x="1877" y="368" width="2" height="1" fill="#000"/>
<rect x="1877" y="401" width="2" height="1" fill="#000"/>
<rect x="1877" y="434" width="2" height="1" fill="#000"/>
<rect x="1877" y="467" width="2" height="1" fill="#000"/>
<rect x="1877" y="500" width="2" height="1" fill="#000"/>
<rect x="1877" y="533" width="2" height="1" fill="#000"/>
<rect x="1877" y="566" width="2" height="1" fill="#000"/>
<rect x="1877" y="599" width="2" height="1" fill="#000"/>
<rect x="1877" y="632" width="2" height="1" fill="#000"/>
<rect x="1877" y="665" width="2" height="1" fill="#000"/>
<rect x="1877" y="698" width="2" height="1" fill="#000"/>
<rect x="1877" y="731" width="2" height="1" fill="#000"/>
<rect x="1877" y="738" width="2" height="1" fill="#000"/>
<rect x="1877" y="866" width="1" height="1" fill="#000"/>
<rect x="3" y="868" width="1" height="3" fill="#000"/>
<rect x="67" y="868" width="1" height="3" fill="#000"/>
<rect x="131" y="868" width="1" height="3" fill="#000"/>
<rect x="195" y="868" width="1" height="3" fill="#000"/>
<rect x="259" y="868" width="1" height="3" fill="#000"/>
<rect x="323" y="868" width="1" height="3" fill="#000"/>
<rect x="387" y="868" width="1" height="3" fill="#000"/>
<rect x="451" y="868" width="1" height="3" fill="#000"/>
<rect x="515" y="868" width="1" height="3" fill="#000"/>
<rect x="579" y="868" width="1" height="3" fill="#000"/>
<rect x="643" y="868" width="1" height="3" fill="#000"/>
<rect x="707" y="868" width="1" height="3" fill="#000"/>
<rect x="771" y="868" width="1" height="3" fill="#000"/>
<rect x="835" y="868" width="1" height="3" fill="#000"/>
<rect x="899" y="868" width="1" height="3" fill="#000"/>
<rect x="963" y="868" width="1" height="3" fill="#000"/>
<rect x="1027" y="868" width="1" height="3" fill="#000"/>
<rect x="1091" y="868" width="1" height="3" fill="#000"/>
<rect x="1155" y="868" width="1" height="3" fill="#000"/>
<rect x="1219" y="868" width="1" height="3" fill="#000"/>
<rect x="1283" y="868" width="1" height="3" fill="#000"/>
<rect x="1347" y="868" width="1" height="3" fill="#000"/>
<rect x="1411" y="868" width="1" height="3" fill="#000"/>
<rect x="1475" y="868" width="1" height="3" fill="#000"/>
<rect x="1539" y="868" width="1" height="3" fill="#000"/>
</g>
<g shape-rendering="crispEdges">
<line x1="4" y1="776.5" x2="1876" y2="776.5" stroke="#c0c0c0" stroke-width="1" stroke-dasharray="3 3"/>
<line x1="4" y1="802.5" x2="1876" y2="802.5" stroke="#c0c0c0" stroke-width="1" stroke-dasharray="3 3"/>
<line x1="4" y1="828.5" x2="1876" y2="828.5" stroke="#c0c0c0" stroke-width="1" stroke-dasharray="3 3"/>
</g>
<polyline points="3.5,799.5 11.5,797.6 19.5,790.7 27.5,788.2 35.5,792.4 43.5,780.6 51.5,779.3 59.5,769.2 67.5,778.6 75.5,770.0 83.5,774.4 91.5,773.3 99.5,773.3 107.5,799.9 115.5,807.5 123.5,807.5 131.5,807.5 139.5,807.5 147.5,808.5 155.5,806.5 163.5,799.2 171.5,800.3 179.5,803.7 187.5,798.6 195.5,797.2 203.5,797.2 211.5,803.7 219.5,796.2 227.5,804.1 235.5,805.4 243.5,805.4 251.5,801.3 259.5,803.2 267.5,804.3 275.5,806.3 283.5,806.3 291.5,802.3 299.5,808.4 307.5,798.7 315.5,788.9 323.5,785.4 331.5,790.9 339.5,802.3 347.5,806.3 355.5,810.1 363.5,814.1 371.5,816.3 379.5,817.5 387.5,814.3 395.5,817.3 403.5,819.3 411.5,812.3 419.5,816.3 427.5,814.3 435.5,817.5 443.5,810.9 451.5,807.6 459.5,806.3 467.5,800.4 475.5,808.4 483.5,805.4 491.5,802.6 499.5,804.3 507.5,800.1 515.5,795.4 523.5,806.3 531.5,808.4 539.5,815.1 547.5,812.3 555.5,809.3 563.5,803.4 571.5,811.3 579.5,809.6 587.5,805.4 595.5,798.4 603.5,801.3 611.5,803.1 619.5,809.4 627.5,809.4 635.5,801.4 643.5,794.6 651.5,792.1 659.5,793.4 667.5,805.9 675.5,810.1 683.5,813.4 691.5,818.5 699.5,818.5 707.5,811.3 715.5,809.4 723.5,808.4 731.5,812.1 739.5,826.5 747.5,818.1 755.5,822.5 763.5,821.5 771.5,826.3 779.5,824.5 787.5,825.5 795.5,821.0 803.5,808.4 811.5,796.2 819.5,798.4 827.5,797.2 835.5,805.4 843.5,804.4 851.5,804.4 859.5,801.3 867.5,800.1 875.5,804.3 883.5,808.4 891.5,809.6 899.5,807.3 907.5,805.4 915.5,797.6 923.5,813.4 931.5,812.3 939.5,804.6 947.5,804.4 955.5,799.6 963.5,806.3 971.5,810.1 979.5,814.3 987.5,808.4 995.5,812.3 1003.5,809.3 1011.5,805.4 1019.5,802.6 1027.5,803.8 1035.5,809.3 1043.5,805.4 1051.5,801.4 1059.5,798.4 1067.5,807.3 1075.5,809.3 1083.5,805.4 1091.5,812.3 1099.5,814.3 1107.5,818.5 1115.5,826.5 1123.5,813.4 1131.5,817.3 1139.5,812.6 1147.5,803.8 1155.5,800.4 1163.5,801.4 1171.5,809.3 1179.5,804.6 1187.5,803.4 1195.5,804.9 1203.5,807.6 1211.5,800.4 1219.5,809.3 1227.5,812.6 1235.5,799.3 1243.5,797.3 1251.5,793.1 1259.5,786.3 1267.5,786.3 1275.5,798.4 1283.5,798.4 1291.5,797.3 1299.5,796.3 1307.5,790.4 1315.5,797.3 1323.5,789.3 1331.5,792.6 1339.5,784.6 1347.5,781.2 1355.5,775.4 1363.5,774.4 1371.5,795.1 1379.5,789.3 1387.5,787.4 1395.5,794.4 1403.5,792.6 1411.5,789.4 1419.5,790.4 1427.5,787.4 1435.5,798.1 1443.5,799.4 1451.5,795.3 1459.5,802.3 1467.5,790.1 1475.5,785.4 1483.5,787.3 1491.5,787.4 1499.5,788.6 1507.5,791.3 1515.5,792.4 1523.5,784.6 1531.5,774.5 1539.5,766.6 1547.5,765.4 1555.5,762.3 1563.5,760.3 1571.5,754.7 1579.5,751.2" fill="none" stroke="#000" stroke-width="1" stroke-linejoin="round" shape-rendering="crispEdges" clip-path="url(#cr)"/>
<text class="ax" transform="translate(1882.5,9) scale(0.93,1)" >122.55</text>
<text class="ax" transform="translate(1882.5,75) scale(0.93,1)" >116.25</text>
<text class="ax" transform="translate(1882.5,108) scale(0.93,1)" >113.10</text>
<text class="ax" transform="translate(1882.5,141) scale(0.93,1)" >109.95</text>
<text class="ax" transform="translate(1882.5,174) scale(0.93,1)" >106.80</text>
<text class="ax" transform="translate(1882.5,207) scale(0.93,1)" >103.70</text>
<text class="ax" transform="translate(1882.5,240) scale(0.93,1)" >100.55</text>
<text class="ax" transform="translate(1882.5,306) scale(0.93,1)" >94.25</text>
<text class="ax" transform="translate(1882.5,339) scale(0.93,1)" >91.10</text>
<text class="ax" transform="translate(1882.5,372) scale(0.93,1)" >88.00</text>
<text class="ax" transform="translate(1882.5,405) scale(0.93,1)" >84.85</text>
<text class="ax" transform="translate(1882.5,438) scale(0.93,1)" >81.70</text>
<text class="ax" transform="translate(1882.5,471) scale(0.93,1)" >78.55</text>
<text class="ax" transform="translate(1882.5,504) scale(0.93,1)" >75.40</text>
<text class="ax" transform="translate(1882.5,537) scale(0.93,1)" >72.25</text>
<text class="ax" transform="translate(1882.5,570) scale(0.93,1)" >69.10</text>
<text class="ax" transform="translate(1882.5,603) scale(0.93,1)" >65.95</text>
<text class="ax" transform="translate(1882.5,636) scale(0.93,1)" >62.85</text>
<text class="ax" transform="translate(1882.5,669) scale(0.93,1)" >59.70</text>
<text class="ax" transform="translate(1882.5,702) scale(0.93,1)" >56.55</text>
<text class="ax" transform="translate(1882.5,735) scale(0.93,1)" >53.40</text>
<text class="ax" transform="translate(1879.8,747) scale(0.93,1)" >100</text>
<text class="ax" transform="translate(1879,780) scale(0.93,1)" >70</text>
<text class="ax" transform="translate(1879,806) scale(0.93,1)" >50</text>
<text class="ax" transform="translate(1879,832) scale(0.93,1)" >30</text>
<text class="ax" transform="translate(1879.8,864) scale(0.93,1)" >0</text>
<rect x="1878" y="31" width="36" height="11" fill="#ff0000" shape-rendering="crispEdges"/>
<text class="tg" transform="translate(1882.5,40) scale(0.93,1)" >119.50</text>
<rect x="1878" y="103" width="36" height="11" fill="#ff0000" shape-rendering="crispEdges"/>
<text class="tg" transform="translate(1882.5,112) scale(0.93,1)" >112.70</text>
<rect x="1878" y="162" width="36" height="11" fill="#ff0000" shape-rendering="crispEdges"/>
<text class="tg" transform="translate(1882.5,171) scale(0.93,1)" >107.00</text>
<rect x="1878" y="226" width="36" height="11" fill="#ff0000" shape-rendering="crispEdges"/>
<text class="tg" transform="translate(1882.5,235) scale(0.93,1)" >100.90</text>
<rect x="1878" y="264" width="31" height="11" fill="#ff0000" shape-rendering="crispEdges"/>
<text class="tg" transform="translate(1882.5,273) scale(0.93,1)" >97.35</text>
<rect x="1878" y="300" width="31" height="11" fill="#ff0000" shape-rendering="crispEdges"/>
<text class="tg" transform="translate(1882.5,309) scale(0.93,1)" >93.90</text>
<rect x="1878" y="371" width="31" height="11" fill="#006400" shape-rendering="crispEdges"/>
<text class="tg" transform="translate(1882.5,380) scale(0.93,1)" >87.10</text>
<rect x="1878" y="406" width="31" height="11" fill="#006400" shape-rendering="crispEdges"/>
<text class="tg" transform="translate(1882.5,415) scale(0.93,1)" >83.85</text>
<rect x="1878" y="446" width="31" height="11" fill="#006400" shape-rendering="crispEdges"/>
<text class="tg" transform="translate(1882.5,455) scale(0.93,1)" >80.00</text>
<rect x="1878" y="482" width="31" height="11" fill="#006400" shape-rendering="crispEdges"/>
<text class="tg" transform="translate(1882.5,491) scale(0.93,1)" >76.60</text>
<rect x="1878" y="516" width="31" height="11" fill="#006400" shape-rendering="crispEdges"/>
<text class="tg" transform="translate(1882.5,525) scale(0.93,1)" >73.35</text>
<rect x="1878" y="551" width="31" height="11" fill="#006400" shape-rendering="crispEdges"/>
<text class="tg" transform="translate(1882.5,560) scale(0.93,1)" >70.00</text>
<rect x="1878" y="591" width="31" height="11" fill="#006400" shape-rendering="crispEdges"/>
<text class="tg" transform="translate(1882.5,600) scale(0.93,1)" >66.20</text>
<rect x="1878" y="637" width="31" height="11" fill="#006400" shape-rendering="crispEdges"/>
<text class="tg" transform="translate(1882.5,646) scale(0.93,1)" >61.80</text>
<rect x="1878" y="658" width="31" height="11" fill="#006400" shape-rendering="crispEdges"/>
<text class="tg" transform="translate(1882.5,667) scale(0.93,1)" >59.80</text>
<rect x="1878" y="698" width="31" height="11" fill="#006400" shape-rendering="crispEdges"/>
<text class="tg" transform="translate(1882.5,707) scale(0.93,1)" >56.00</text>
<rect x="1878" y="346" width="31" height="11" fill="#000" shape-rendering="crispEdges"/>
<text class="tg" transform="translate(1882.5,355) scale(0.93,1)" >89.61</text>
<text class="ax" transform="translate(2,880) scale(0.93,1)" >4 Jun 2025</text>
<text class="ax" transform="translate(66,880) scale(0.93,1)" >16 Jun 2025</text>
<text class="ax" transform="translate(130,880) scale(0.93,1)" >26 Jun 2025</text>
<text class="ax" transform="translate(194,880) scale(0.93,1)" >8 Jul 2025</text>
<text class="ax" transform="translate(258,880) scale(0.93,1)" >18 Jul 2025</text>
<text class="ax" transform="translate(322,880) scale(0.93,1)" >30 Jul 2025</text>
<text class="ax" transform="translate(386,880) scale(0.93,1)" >11 Aug 2025</text>
<text class="ax" transform="translate(450,880) scale(0.93,1)" >21 Aug 2025</text>
<text class="ax" transform="translate(514,880) scale(0.93,1)" >2 Sep 2025</text>
<text class="ax" transform="translate(578,880) scale(0.93,1)" >12 Sep 2025</text>
<text class="ax" transform="translate(642,880) scale(0.93,1)" >24 Sep 2025</text>
<text class="ax" transform="translate(706,880) scale(0.93,1)" >6 Oct 2025</text>
<text class="ax" transform="translate(770,880) scale(0.93,1)" >16 Oct 2025</text>
<text class="ax" transform="translate(834,880) scale(0.93,1)" >28 Oct 2025</text>
<text class="ax" transform="translate(898,880) scale(0.93,1)" >7 Nov 2025</text>
<text class="ax" transform="translate(962,880) scale(0.93,1)" >19 Nov 2025</text>
<text class="ax" transform="translate(1026,880) scale(0.93,1)" >1 Dec 2025</text>
<text class="ax" transform="translate(1090,880) scale(0.93,1)" >11 Dec 2025</text>
<text class="ax" transform="translate(1154,880) scale(0.93,1)" >23 Dec 2025</text>
<text class="ax" transform="translate(1218,880) scale(0.93,1)" >6 Jan 2026</text>
<text class="ax" transform="translate(1282,880) scale(0.93,1)" >16 Jan 2026</text>
<text class="ax" transform="translate(1346,880) scale(0.93,1)" >28 Jan 2026</text>
<text class="ax" transform="translate(1410,880) scale(0.93,1)" >9 Feb 2026</text>
<text class="ax" transform="translate(1474,880) scale(0.93,1)" >19 Feb 2026</text>
<text class="ax" transform="translate(1538,880) scale(0.93,1)" >3 Mar 2026</text>
<path d="M6 9h7l-3.5 4z" fill="#000" shape-rendering="crispEdges"/>
<text class="ax" transform="translate(18,14) scale(0.972,1)" >WTICash,Daily</text>
<text class="ax" transform="translate(87.4,14) scale(0.952,1)" >83.26 91.45 83.26 89.61</text>
<text class="ax" transform="translate(7.2,749) scale(0.95,1)" >RSI(14) 89.1994</text>
<text class="big" transform="translate(1873.1,223) scale(0.948,1)" x="0" y="0" text-anchor="end" fill="#ff0000">R3 - 100.90</text>
<text class="big" transform="translate(1871.8,264.1) scale(0.948,1)" x="0" y="0" text-anchor="end" fill="#ff0000">R2 - 97.35</text>
<text class="big" transform="translate(1873.8,300.1) scale(0.948,1)" x="0" y="0" text-anchor="end" fill="#ff0000">R1 - 93.90</text>
<text class="big" transform="translate(1873.8,403.1) scale(0.948,1)" x="0" y="0" text-anchor="end" fill="#006400">S1 - 87.10</text>
<text class="big" transform="translate(1872.0,439.2) scale(0.948,1)" x="0" y="0" text-anchor="end" fill="#006400">S2 - 83.85</text>
<text class="big" transform="translate(1870.8999999999999,481.2) scale(0.948,1)" x="0" y="0" text-anchor="end" fill="#006400">S3 - 80.00</text>
</svg></body></html>
